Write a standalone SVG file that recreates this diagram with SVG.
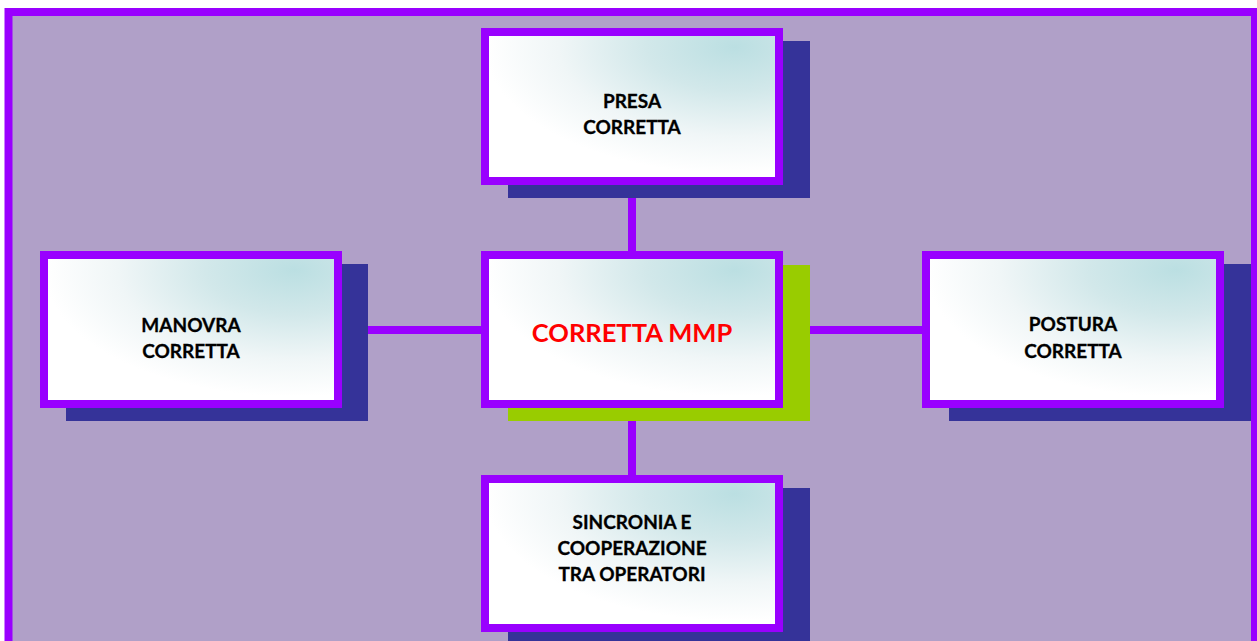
<svg xmlns="http://www.w3.org/2000/svg" width="1257" height="641" viewBox="0 0 1257 641">
<defs>
<radialGradient id="g" cx="0.85" cy="0.1" r="1" fx="0.85" fy="0.1">
<stop offset="0" stop-color="#BBDFE2"/>
<stop offset="0.3" stop-color="#D2E8EA"/>
<stop offset="0.6" stop-color="#F0F6F7"/>
<stop offset="0.85" stop-color="#FFFFFF"/>
</radialGradient>
<style>
.box{fill:url(#g);stroke:#9900FF;stroke-width:8}
.sh{fill:#353399}
.shg{fill:#99CC00}
.con{stroke:#9900FF;stroke-width:8;fill:none}
.t{font-family:Lato,"Liberation Sans",sans-serif;font-weight:bold;font-size:19px;fill:#000;text-anchor:middle;stroke:#000;stroke-width:0.3}
.tr{font-family:Lato,"Liberation Sans",sans-serif;font-weight:bold;font-size:25.5px;fill:#FF0000;text-anchor:middle}
</style>
</defs>
<rect x="8.5" y="12" width="1246.5" height="700" fill="#B0A0C8" stroke="#9900FF" stroke-width="8"/>
<g id="connectors">
<line class="con" x1="632" y1="196" x2="632" y2="253"/>
<line class="con" x1="632" y1="420" x2="632" y2="477"/>
<line class="con" x1="366" y1="330" x2="483" y2="330"/>
<line class="con" x1="808" y1="330" x2="924" y2="330"/>
</g>
<g id="top">
<rect class="sh" x="508" y="41" width="302" height="157"/>
<rect class="box" x="485" y="32" width="294" height="149"/>
<text class="t" x="632" y="108">PRESA</text>
<text class="t" x="632" y="134">CORRETTA</text>
</g>
<g id="center">
<rect class="shg" x="508" y="265" width="302" height="156"/>
<rect class="box" x="485" y="255" width="294" height="149"/>
<text class="tr" x="632" y="342">CORRETTA MMP</text>
</g>
<g id="left">
<rect class="sh" x="66" y="264" width="302" height="157"/>
<rect class="box" x="44" y="255" width="294" height="149"/>
<text class="t" x="191" y="332">MANOVRA</text>
<text class="t" x="191" y="358">CORRETTA</text>
</g>
<g id="right">
<rect class="sh" x="949" y="264" width="302" height="157"/>
<rect class="box" x="926" y="255" width="294" height="149"/>
<text class="t" x="1073" y="331">POSTURA</text>
<text class="t" x="1073" y="358">CORRETTA</text>
</g>
<g id="bottom">
<rect class="sh" x="508" y="488" width="302" height="160"/>
<rect class="box" x="485" y="479" width="294" height="149"/>
<text class="t" x="632" y="529">SINCRONIA E</text>
<text class="t" x="632" y="555">COOPERAZIONE</text>
<text class="t" x="632" y="581">TRA OPERATORI</text>
</g>
</svg>
